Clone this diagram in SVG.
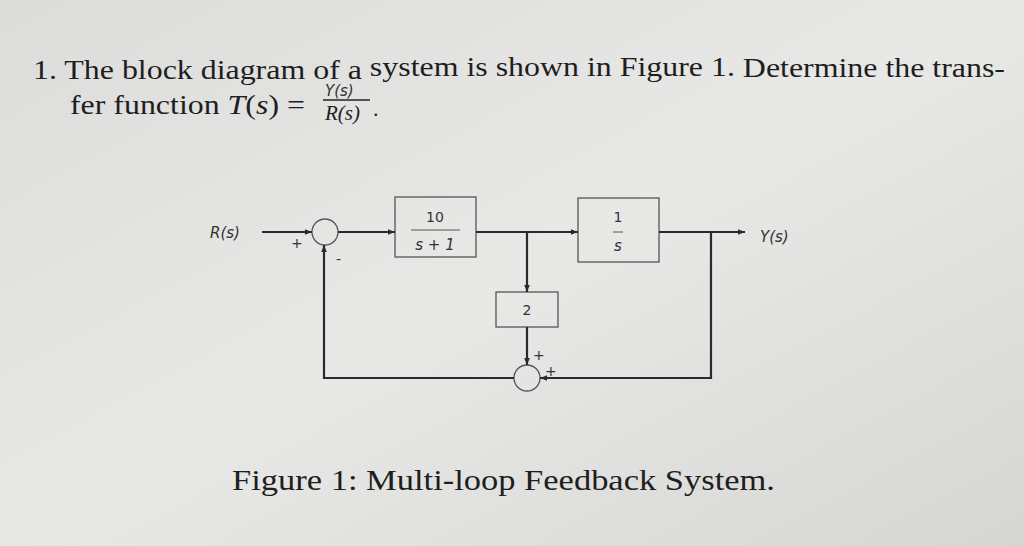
<svg xmlns="http://www.w3.org/2000/svg" width="1024" height="546" viewBox="0 0 1024 546">
<defs>
<linearGradient id="bg" x1="0" y1="0" x2="1" y2="1"><stop offset="0" stop-color="#dcdcda"/><stop offset="0.5" stop-color="#e8e8e6"/><stop offset="1" stop-color="#d6d6d4"/></linearGradient>
<marker id="ar" viewBox="0 0 10 10" refX="10" refY="5" markerWidth="7" markerHeight="7" orient="auto" markerUnits="userSpaceOnUse"><path d="M0,1 L10,5 L0,9 z" fill="#2a2a2a"/></marker>
</defs>
<style>
.t{font-family:"Liberation Serif",serif;fill:#1e1e1e}
.d{font-family:"DejaVu Sans",sans-serif;fill:#333;font-size:14px}
.di{font-family:"DejaVu Sans",sans-serif;fill:#333;font-size:15px;font-style:italic}
.b{fill:none;stroke:#555;stroke-width:1.3}
.w{fill:none;stroke:#2a2a2a;stroke-width:2.2}
</style>
<rect width="1024" height="546" fill="url(#bg)"/>
<text class="t" x="33" y="79" font-size="27" textLength="972" lengthAdjust="spacingAndGlyphs">1. The block diagram of a <tspan dy="-3">system is shown in Figure 1.</tspan> <tspan dy="1">Determine the trans-</tspan></text>
<text class="t" x="70" y="114" font-size="27" textLength="235" lengthAdjust="spacingAndGlyphs">fer function <tspan font-style="italic">T</tspan>(<tspan font-style="italic">s</tspan>) = </text>
<text class="di" x="325" y="96" font-size="16">Y(s)</text>
<line x1="323" y1="100" x2="370" y2="100" stroke="#222" stroke-width="1.3"/>
<text class="t" x="325" y="120" font-size="21" font-style="italic">R(s)</text>
<text class="t" x="373" y="116" font-size="22">.</text>
<g id="sum1"><circle cx="325" cy="232" r="13" class="b"/></g>
<g id="g1"><rect x="395" y="197" width="81" height="60" class="b"/><text class="d" x="435" y="222" text-anchor="middle">10</text><line x1="411" y1="230" x2="460" y2="230" stroke="#555"/><text class="di" x="435" y="250" text-anchor="middle">s + 1</text></g>
<g id="g2"><rect x="578" y="198" width="81" height="64" class="b"/><text class="d" x="618" y="222" text-anchor="middle">1</text><line x1="613" y1="232" x2="623" y2="232" stroke="#555"/><text class="di" x="618" y="251" text-anchor="middle">s</text></g>
<g id="g3"><rect x="496" y="292" width="62" height="35" class="b"/><text class="d" x="527" y="315" text-anchor="middle">2</text></g>
<g id="sum2"><circle cx="527" cy="378" r="13" class="b"/></g>
<g id="labels">
<text class="di" x="210" y="238">R(s)</text>
<text class="di" x="760" y="242">Y(s)</text>
<text class="d" x="291" y="248" font-size="12">+</text>
<text class="d" x="336" y="264" font-size="12">-</text>
<text class="d" x="533" y="360" font-size="12">+</text>
<text class="d" x="545" y="376" font-size="12">+</text>
</g>
<g id="connectors">
<line x1="262" y1="232" x2="312" y2="232" class="w" marker-end="url(#ar)"/>
<line x1="338" y1="232" x2="395" y2="232" class="w" marker-end="url(#ar)"/>
<line x1="476" y1="232" x2="578" y2="232" class="w" marker-end="url(#ar)"/>
<line x1="527" y1="232" x2="527" y2="292" class="w" marker-end="url(#ar)"/>
<line x1="527" y1="327" x2="527" y2="365" class="w" marker-end="url(#ar)"/>
<line x1="659" y1="232" x2="745" y2="232" class="w" marker-end="url(#ar)"/>
<polyline points="711,232 711,378 540,378" class="w" marker-end="url(#ar)"/>
<polyline points="514,378 324,378 324,245" class="w" marker-end="url(#ar)"/>
</g>
<text class="t" x="232" y="490" font-size="29" textLength="543" lengthAdjust="spacingAndGlyphs">Figure 1: Multi-loop Feedback System.</text>
</svg>
